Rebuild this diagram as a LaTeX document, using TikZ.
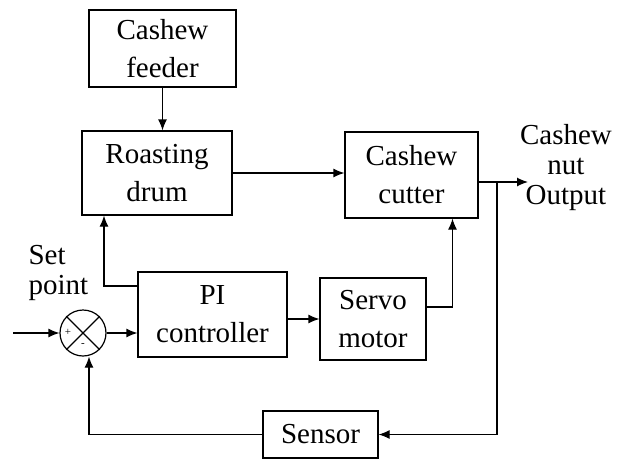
\documentclass[tikz,border=0pt]{standalone}
\usepackage{fontspec}
\setmainfont{Liberation Serif}
\usetikzlibrary{arrows.meta}

\tikzset{
  block/.style={draw,line width=1.2pt,align=center,inner sep=0pt,
    font=\fontsize{29}{38}\selectfont},
  lbl/.style={align=center,inner sep=0pt,font=\fontsize{29}{30}\selectfont},
}

\begin{document}
\begin{tikzpicture}[x=1pt,y=-1pt,line width=1.2pt,>={Latex[length=11pt,width=9pt]}]
 \useasboundingbox (0,0) rectangle (627,459);

 % blocks
 \node[block,minimum width=147pt,minimum height=77pt] (feeder) at (162.5,48.5) {Cashew\\feeder};
 \node[block,minimum width=150pt,minimum height=84pt] (drum) at (157,173) {Roasting\\drum};
 \node[block,minimum width=133pt,minimum height=86pt] (cutter) at (411.5,175) {Cashew\\cutter};
 \node[block,minimum width=149pt,minimum height=85pt] (pi) at (212.5,314.5) {PI\\controller};
 \node[block,minimum width=106pt,minimum height=82pt] (servo) at (373,319) {Servo\\motor};
 \node[block,minimum width=115pt,minimum height=47pt] (sensor) at (320.5,434.5) {Sensor};
 \node[draw,circle,minimum size=46pt,inner sep=0pt] (sum) at (83,333) {};
 \draw (sum.north west) -- (sum.south east);
 \draw (sum.north east) -- (sum.south west);
 \node[font=\fontsize{11}{11}\selectfont,inner sep=0pt] (plus) at (68,332) {+};
 \node[font=\fontsize{11}{11}\selectfont,inner sep=0pt] (minus) at (83,345) {-};

 % labels
 \node[lbl,align=left,anchor=west] (setpt) at (28,273) {Set\\point};
 \node[lbl] (outlbl) at (566,168) {Cashew\\nut\\Output};

 \coordinate (in) at (13,333);
 \coordinate (outend) at (528,182);
 \coordinate (tap) at (497,182);

 % connectors
 \draw[->] (feeder.south) -- (feeder.south |- drum.north);
 \draw[->] (drum.east) -- (drum.east -| cutter.west);
 \draw[->] (cutter.east |- outend) -- (outend);
 \draw[->] (tap) |- (sensor.east);
 \draw[->] (sensor.west) -| ([xshift=6pt]sum.south);
 \draw[->] (in) -- (sum.west);
 \draw[->] (sum.east) -- (sum.east -| pi.west);
 \draw[->] ([yshift=28.5pt]pi.west) -| ([xshift=-53pt]drum.south);
 \draw[->] (pi.east |- servo.west) -- (servo.west);
 \draw[->] ([yshift=12pt]servo.east) -| ([xshift=41pt]cutter.south);
\end{tikzpicture}
\end{document}
